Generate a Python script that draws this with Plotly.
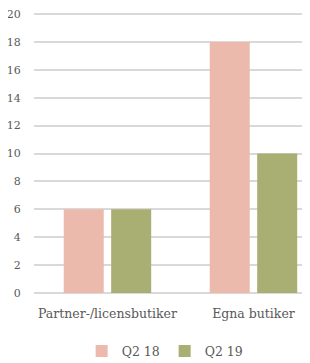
import plotly.graph_objects as go

categories = ["Partner-/licensbutiker", "Egna butiker"]
q2_18 = [6, 18]
q2_19 = [6, 10]
y_ticks = [0, 2, 4, 6, 8, 10, 12, 14, 16, 18, 20]

font_family = "DejaVu Serif"
fig = go.Figure()
fig.add_trace(go.Bar(name="Q2 18", x=categories, y=q2_18, marker=dict(color="#ebbaac", line=dict(width=0))))
fig.add_trace(go.Bar(name="Q2 19", x=categories, y=q2_19, marker=dict(color="#a9ae72", line=dict(width=0))))

fig.update_layout(
    width=310, height=363,
    margin=dict(l=26, r=0, t=3, b=78, autoexpand=False),
    paper_bgcolor="white", plot_bgcolor="white",
    barmode="group", bargap=0.35, bargroupgap=0.157,
    font=dict(family=font_family, size=11, color="#595959"),
    showlegend=True,
    legend=dict(orientation="h", x=0.46, xanchor="center", y=-0.154, yanchor="top",
                font=dict(size=12.5, color="#595959"), itemwidth=30, traceorder="normal",
                entrywidth=38, tracegroupgap=0),
    xaxis=dict(type="category", range=[-0.503, 1.442], showgrid=False, showline=False,
               automargin=False,
               ticks="outside", ticklen=9, tickcolor="rgba(0,0,0,0)",
               tickfont=dict(size=12.5, color="#595959")),
    yaxis=dict(range=[0, 20.215], tickvals=y_ticks, showgrid=True, gridcolor="#d9d9d9", gridwidth=1.5,
               automargin=False, ticklabeloverflow="allow",
               zeroline=True, zerolinecolor="#d9d9d9", zerolinewidth=1.5, showline=False,
               ticks="outside", ticklen=10, tickcolor="rgba(0,0,0,0)",
               tickfont=dict(size=11, color="#595959")),
)
fig.write_html("out.html")
